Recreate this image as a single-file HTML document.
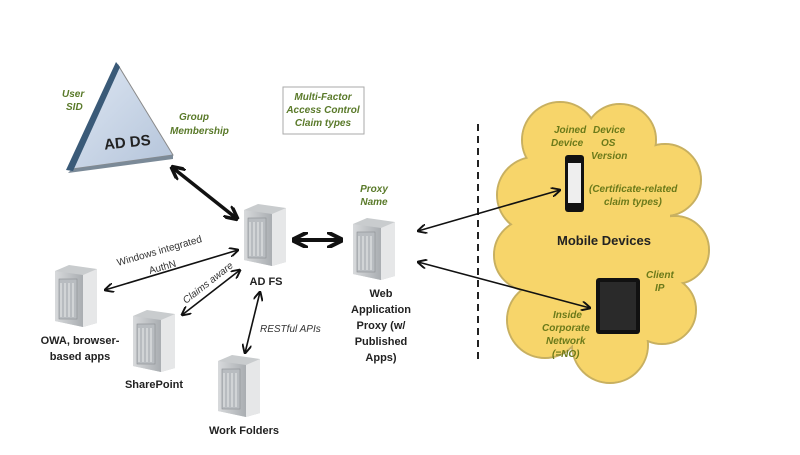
<!DOCTYPE html>
<html><head><meta charset="utf-8"><style>
body{margin:0;background:#fff}
text{font-family:"Liberation Sans",sans-serif}
.g{fill:#5a7a2a;font-style:italic;font-weight:bold;font-size:10px}
.y{fill:#6b7a1a;font-style:italic;font-weight:bold;font-size:10px}
.b{fill:#222;font-weight:bold;font-size:11px}
</style></head><body>
<svg width="800" height="450" viewBox="0 0 800 450" xmlns="http://www.w3.org/2000/svg">
<defs>
<linearGradient id="sv" x1="0" x2="1"><stop offset="0" stop-color="#d8dadc"/><stop offset="1" stop-color="#a9adb1"/></linearGradient>
<linearGradient id="tri" x1="0" y1="0" x2="1" y2="1"><stop offset="0" stop-color="#dde6f2"/><stop offset="1" stop-color="#b4c4da"/></linearGradient>
<g id="srv">
<path d="M0 6 L14 0 L42 4 L42 58 L28 62 L0 56 Z" fill="#c9ccce"/>
<path d="M28 10 L42 4 L42 58 L28 62 Z" fill="#e6e7e8"/>
<path d="M0 6 L28 10 L28 62 L0 56 Z" fill="url(#sv)"/>
<rect x="4" y="14" width="18" height="40" fill="#b8bcc0" stroke="#8a8e92" stroke-width="0.6"/>
<g stroke="#fff" stroke-width="0.7"><line x1="6" y1="18" x2="6" y2="52"/><line x1="10" y1="18" x2="10" y2="52"/><line x1="14" y1="18" x2="14" y2="52"/><line x1="18" y1="18" x2="18" y2="52"/></g>
</g>
<marker id="a" viewBox="0 0 10 10" refX="9" refY="5" markerWidth="6" markerHeight="6" orient="auto-start-reverse"><path d="M0 0 L10 5 L0 10" fill="none" stroke="#111" stroke-width="2"/></marker>
<marker id="A" viewBox="0 0 10 10" refX="8" refY="5" markerWidth="4" markerHeight="4" orient="auto-start-reverse"><path d="M0 0 L10 5 L0 10" fill="none" stroke="#111" stroke-width="2.5"/></marker>
</defs>
<polygon points="118,65 72,169 173,155" fill="url(#tri)" stroke="#8a8a8a" stroke-width="1"/>
<polygon points="72,169 173,155 173,159 68,173" fill="#7b8a98"/>
<polygon points="116,62 66,170 73,171 120,67" fill="#3a5a78"/>
<text x="104" y="148" class="b" style="font-size:15px" transform="rotate(-6 120 143)">AD DS</text>
<text x="62" y="97" class="g">User</text><text x="66" y="110" class="g">SID</text>
<text x="179" y="120" class="g">Group</text><text x="170" y="134" class="g">Membership</text>
<rect x="283" y="87" width="81" height="47" fill="#fff" stroke="#aaa" stroke-width="1"/>
<text x="323" y="100" class="g" text-anchor="middle">Multi-Factor</text>
<text x="323" y="113" class="g" text-anchor="middle">Access Control</text>
<text x="323" y="126" class="g" text-anchor="middle">Claim types</text>
<line x1="478" y1="124" x2="478" y2="362" stroke="#222" stroke-width="2" stroke-dasharray="7,5"/>
<g fill="#f7d56a" stroke="#c8b060" stroke-width="2">
<circle cx="560" cy="140" r="38"/><circle cx="620" cy="140" r="36"/><circle cx="665" cy="180" r="36"/>
<circle cx="535" cy="195" r="38"/><circle cx="530" cy="255" r="36"/><circle cx="675" cy="250" r="34"/>
<circle cx="545" cy="320" r="38"/><circle cx="610" cy="345" r="38"/><circle cx="662" cy="310" r="34"/>
</g>
<g fill="#f7d56a">
<circle cx="560" cy="140" r="37"/><circle cx="620" cy="140" r="35"/><circle cx="665" cy="180" r="35"/>
<circle cx="535" cy="195" r="37"/><circle cx="530" cy="255" r="35"/><circle cx="675" cy="250" r="33"/>
<circle cx="545" cy="320" r="37"/><circle cx="610" cy="345" r="37"/><circle cx="662" cy="310" r="33"/>
<rect x="540" y="150" width="130" height="190"/>
</g>
<text x="554" y="133" class="y">Joined</text><text x="551" y="146" class="y">Device</text>
<text x="593" y="133" class="y">Device</text><text x="601" y="146" class="y">OS</text><text x="591" y="159" class="y">Version</text>
<text x="589" y="192" class="y">(Certificate-related</text><text x="604" y="205" class="y">claim types)</text>
<text x="557" y="245" class="b" style="font-size:13px">Mobile Devices</text>
<text x="646" y="278" class="y">Client</text><text x="655" y="291" class="y">IP</text>
<text x="553" y="318" class="y">Inside</text><text x="542" y="331" class="y">Corporate</text><text x="546" y="344" class="y">Network</text><text x="552" y="357" class="y">(=NO)</text>
<rect x="565" y="155" width="19" height="57" rx="3" fill="#111"/><rect x="568" y="163" width="13" height="40" fill="#eee"/>
<rect x="596" y="278" width="44" height="56" rx="3" fill="#111"/><rect x="600" y="282" width="36" height="48" fill="#2a2a2a"/>
<use href="#srv" x="244" y="204"/>
<use href="#srv" x="353" y="218"/>
<use href="#srv" x="55" y="265"/>
<use href="#srv" x="133" y="310"/>
<use href="#srv" x="218" y="355"/>
<text x="266" y="285" class="b" text-anchor="middle">AD FS</text>
<text x="374" y="192" class="g" text-anchor="middle">Proxy</text><text x="374" y="205" class="g" text-anchor="middle">Name</text>
<text x="381" y="297" class="b" text-anchor="middle">Web</text>
<text x="381" y="313" class="b" text-anchor="middle">Application</text>
<text x="381" y="329" class="b" text-anchor="middle">Proxy (w/</text>
<text x="381" y="345" class="b" text-anchor="middle">Published</text>
<text x="381" y="361" class="b" text-anchor="middle">Apps)</text>
<text x="80" y="344" class="b" text-anchor="middle">OWA, browser-</text>
<text x="80" y="360" class="b" text-anchor="middle">based apps</text>
<text x="154" y="388" class="b" text-anchor="middle">SharePoint</text>
<text x="244" y="434" class="b" text-anchor="middle">Work Folders</text>
<line x1="173" y1="168" x2="236" y2="218" stroke="#111" stroke-width="3.5" marker-start="url(#A)" marker-end="url(#A)"/>
<line x1="295" y1="240" x2="340" y2="240" stroke="#111" stroke-width="4" marker-start="url(#A)" marker-end="url(#A)"/>
<line x1="105" y1="290" x2="238" y2="250" stroke="#111" stroke-width="1.6" marker-start="url(#a)" marker-end="url(#a)"/>
<line x1="182" y1="315" x2="240" y2="270" stroke="#111" stroke-width="1.6" marker-start="url(#a)" marker-end="url(#a)"/>
<line x1="245" y1="353" x2="260" y2="292" stroke="#111" stroke-width="1.6" marker-start="url(#a)" marker-end="url(#a)"/>
<line x1="418" y1="231" x2="560" y2="190" stroke="#111" stroke-width="1.6" marker-start="url(#a)" marker-end="url(#a)"/>
<line x1="418" y1="262" x2="590" y2="308" stroke="#111" stroke-width="1.6" marker-start="url(#a)" marker-end="url(#a)"/>
<text x="118" y="266" transform="rotate(-16 118 266)" style="font-size:10px" fill="#333">Windows integrated</text>
<text x="150" y="274" transform="rotate(-16 150 274)" style="font-size:10px" fill="#333">AuthN</text>
<text x="186" y="304" transform="rotate(-38 186 304)" style="font-size:10px;font-style:italic" fill="#333">Claims aware</text>
<text x="260" y="332" style="font-size:10px;font-style:italic" fill="#333">RESTful APIs</text>
</svg>
</body></html>
